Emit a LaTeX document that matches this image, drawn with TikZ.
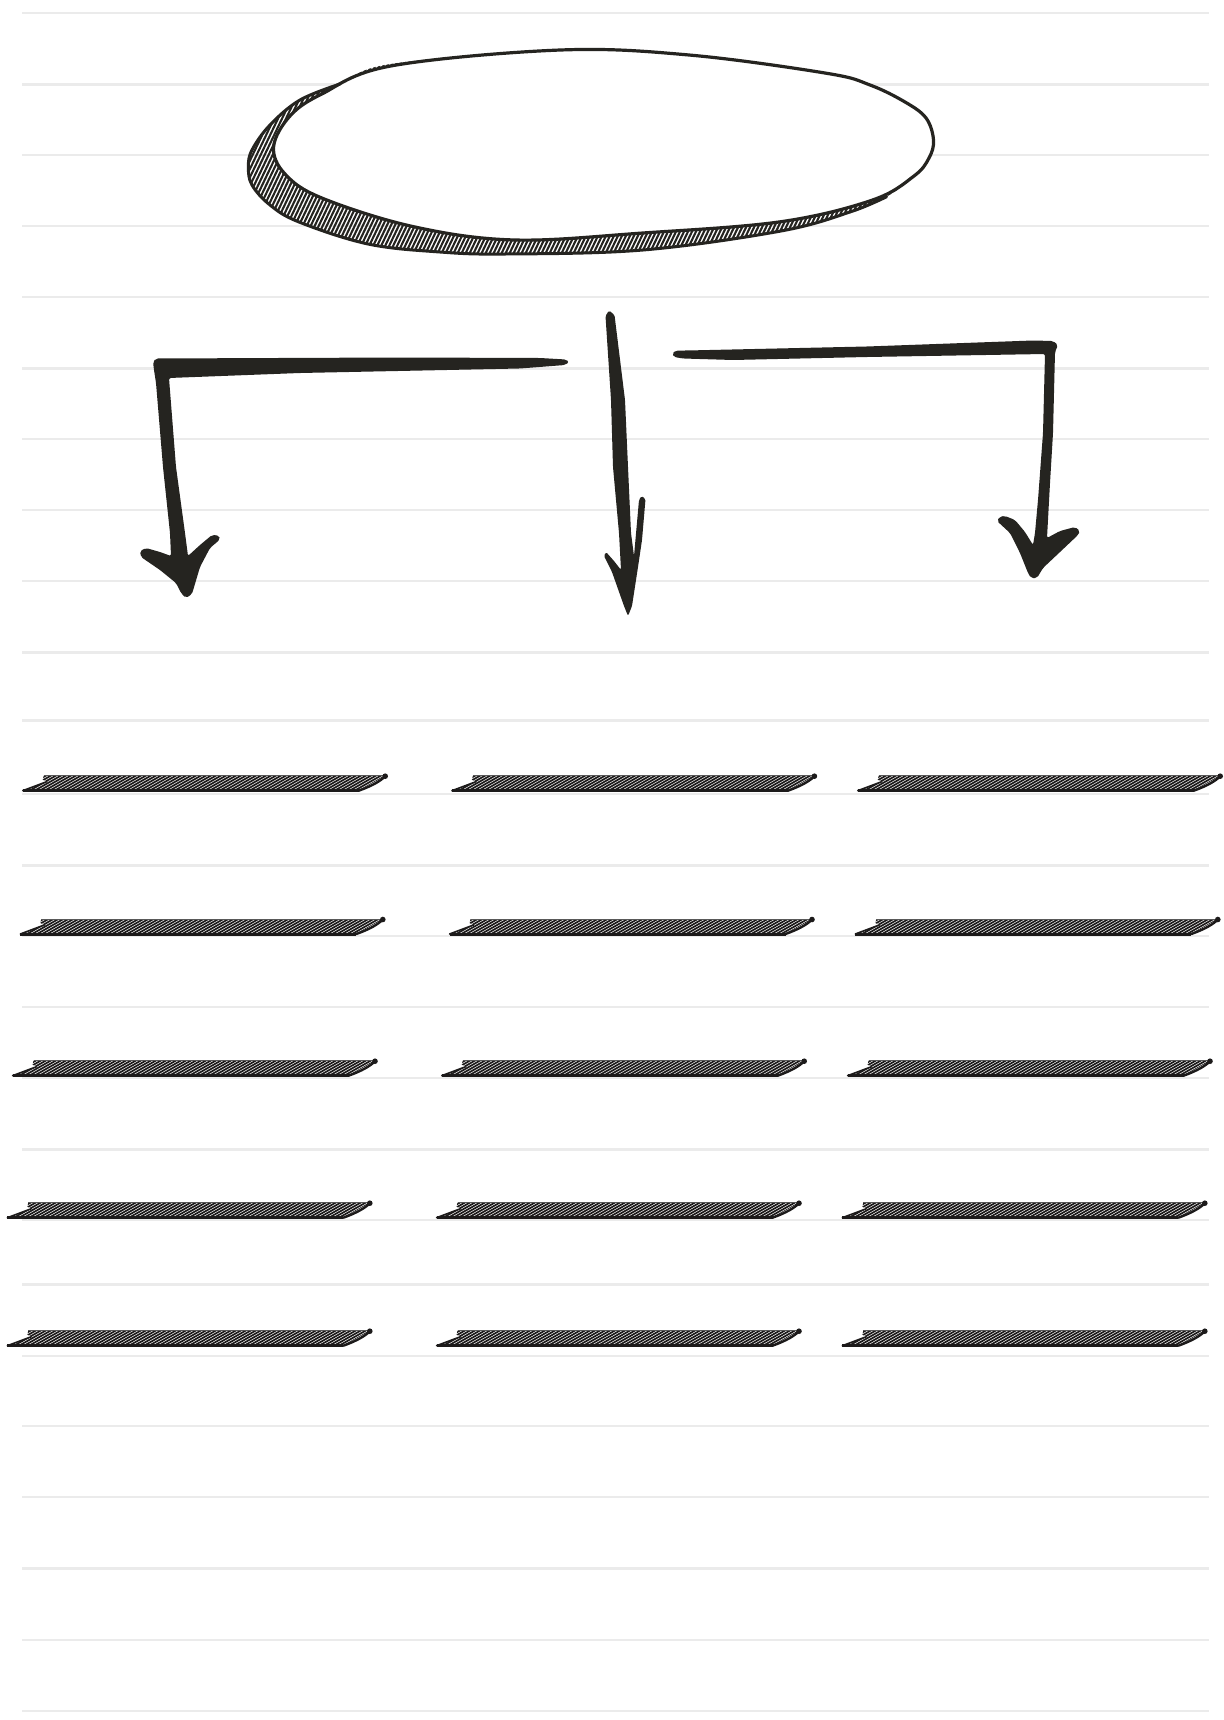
\documentclass[tikz,border=0pt]{standalone}
\usetikzlibrary{calc}
\definecolor{ink}{HTML}{252420}
\definecolor{rulegray}{HTML}{EBEBEB}
\definecolor{barink}{HTML}{1C1A1A}
\begin{document}
\begin{tikzpicture}[x=1pt,y=-1pt,
  ruleline/.style={draw=rulegray,line width=2.2pt},
  brush/.style={fill=ink,rounded corners=2pt},
  shelf/.pic={
    \begin{scope}
      \clip (0,0) -- (24,-9) -- (20,-11) -- (21,-15) -- (363,-15) -- (336,0) -- cycle;
      \foreach \i in {-30,-25,...,345} \draw[barink,line width=1.7pt] (\i,1) -- ++(29.9,-17);
    \end{scope}
    \draw[black!65,line width=0.8pt] (21,-15) -- (362,-15);
    \draw[barink,line width=1.6pt,line cap=round] (0,0) -- (24,-9);
    \draw[barink,line width=3pt] (0,0) -- (336,0);
    \draw[barink,line width=2.4pt,line cap=round] (336,0) .. controls (350,-5) and (358,-10) .. (362,-14);
    \fill[barink] (362.5,-14.5) circle (2.8pt);
  }]
\useasboundingbox (0,0) rectangle (1223,1720);
\fill[white] (0,0) rectangle (1223,1720);

% ruled paper lines
\foreach \yy in {13,84.5,155,226,297,368.5,439,510,581,652.5,720.5,794,865.5,936,1007,1078,1149.5,1220,1284.5,1356,1426,1497,1568.5,1640,1711}
  \draw[ruleline] (22,\yy) -- (1209,\yy);

% oval
\begin{scope}
  \clip plot[smooth cycle, tension=0.6] coordinates {(340,84) (300,100) (270,125) (252,150) (248.4,167) (252,185) (270,205) (299,222) (368,244) (440,252) (505.5,254) (643,250) (781,231) (850,212) (886.6,196.7) (914,176) (929,158) (933.5,140) (926,118) (905,102) (870,85) (826.7,73.3) (689,55) (560.6,50) (390.7,64)};
  \foreach \i in {100,104,...,945} \draw[ink,line width=2.1pt] (\i,265) -- ++(110,-230);
\end{scope}
\fill[white] plot[smooth cycle, tension=0.6] coordinates {(273.6,146.7) (290,116) (321.8,94) (390.7,66) (560.6,50) (689,55) (826.7,73.3) (870,85) (905,102) (926,118) (933.5,140) (929,158) (914,176) (872.6,200) (781,221.7) (643,233) (514.6,240) (413.6,226.7) (321.8,198) (285,174)};
\draw[ink,line width=3.2pt] plot[smooth cycle, tension=0.6] coordinates {(273.6,146.7) (290,116) (321.8,94) (390.7,66) (560.6,50) (689,55) (826.7,73.3) (870,85) (905,102) (926,118) (933.5,140) (929,158) (914,176) (872.6,200) (781,221.7) (643,233) (514.6,240) (413.6,226.7) (321.8,198) (285,174)};
\draw[ink,line width=3pt,line cap=round] plot[smooth, tension=0.6] coordinates {(340,84) (300,100) (270,125) (252,150) (248.4,167) (252,185) (270,205) (299,222) (368,244) (440,252) (505.5,254) (643,250) (781,231) (850,212) (886.6,196.7)};

% left arrow
\fill[brush] (153,362) -- (156,358.5) -- (400,357.5) -- (540,358) -- (566,359.5) -- (569,362) -- (565,365) -- (520,368.5) -- (300,373) -- (169,378) -- (176,467) -- (185,533) -- (188,556) -- (200,545) -- (212,535) -- (219,535.5) -- (220,539.5) -- (210,548) -- (200,567) -- (192,594) -- (186,598) -- (181,593) -- (176,583) -- (160,570) -- (141,557) -- (140,551) -- (146,548) -- (160,552) -- (171,556) -- (170,533) -- (163,467) -- (156,383) -- (154,370) -- cycle;

% middle arrow
\fill[ink,rounded corners=1.5pt] (609,310.5) -- (614.5,315) -- (625,400) -- (628,467) -- (631,533) -- (634,556) -- (639,500) -- (641.5,496) -- (645.5,499) -- (642,540) -- (638,567) -- (632,606) -- (628,616) -- (624,606) -- (612,572) -- (604,556) -- (606,552) -- (614,561) -- (621,570) -- (619,533) -- (613,467) -- (611,400) -- (605.5,316) -- cycle;

% right arrow
\fill[brush] (672,353.5) -- (676,350.5) -- (687,350.5) -- (867,346.5) -- (1033,340.5) -- (1053,341) -- (1058,345) -- (1055,352) -- (1053,433) -- (1050,483) -- (1047,538) -- (1060,531) -- (1075,527) -- (1080,531) -- (1078,535) -- (1060,552) -- (1043,568) -- (1037,578) -- (1031,578) -- (1028,573) -- (1020,553) -- (1010,533) -- (997,521) -- (1000,516.5) -- (1005,516) -- (1015,520) -- (1025,532) -- (1033,545) -- (1035,533) -- (1038,500) -- (1043,433) -- (1045,354) -- (867,357) -- (733,360) -- (683,358.5) -- (674,357) -- cycle;

% shelves
\foreach \rx/\ry in {22.7/790.7, 20.3/934, 12.5/1075.7, 7.3/1217.7, 7.3/1345.7}{
  \foreach \dx in {0,429.2,835}{
    \pic at ({\rx+\dx},\ry) {shelf};
  }
}
\end{tikzpicture}
\end{document}
